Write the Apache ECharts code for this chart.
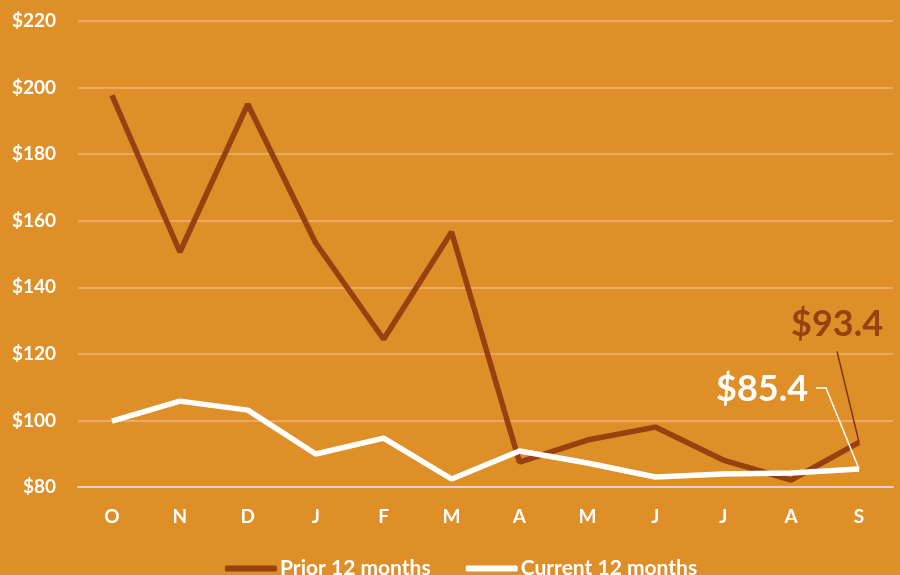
<!DOCTYPE html>
<html><head><meta charset="utf-8">
<script src="https://cdn.jsdelivr.net/npm/echarts@6/dist/echarts.min.js"></script>
<style>html,body{margin:0;padding:0;background:#DF8F27;}#c{width:900px;height:575px;}</style>
</head><body><div id="c"></div>
<script>
const categories = ['O','N','D','J','F','M','A','M','J','J','A','S'];
const prior = [197.7, 150.6, 195.0, 153.3, 124.4, 156.6, 87.5, 94.1, 98.0, 88.1, 82.1, 93.4];
const current = [99.8, 105.8, 103.1, 89.9, 94.7, 82.4, 90.8, 87.2, 83.0, 83.9, 84.2, 85.4];
const yTicks = {min: 80, max: 220, interval: 20};
const brown = '#96410F';
const font = 'Lato, "Open Sans", sans-serif';
const chart = echarts.init(document.getElementById('c'));
chart.setOption({
  backgroundColor: '#DF8F27',
  animation: false,
  grid: {left: 78, right: 7, top: 21, bottom: 88},
  legend: {
    top: 553, left: 220, itemWidth: 52, itemHeight: 6, itemGap: 35,
    icon: 'roundRect',
    textStyle: {color: '#fff', fontSize: 21, fontWeight: 'bold', fontFamily: font, padding: [0,0,0,-2]},
    data: [{name: 'Prior 12 months', itemStyle:{color: brown}}, {name: 'Current 12 months', itemStyle:{color:'#fff'}}]
  },
  xAxis: {
    type: 'category', data: categories, boundaryGap: true,
    axisLine: {show: true, lineStyle: {color: '#D9D9D9', width: 2}},
    axisTick: {show: false},
    axisLabel: {color: '#fff', fontSize: 19, fontWeight: 'bold', fontFamily: font, margin: 20}
  },
  yAxis: {
    type: 'value', min: yTicks.min, max: yTicks.max, interval: yTicks.interval,
    axisLine: {show: false}, axisTick: {show: false},
    splitLine: {lineStyle: {color: '#F2B079', width: 1.5}},
    axisLabel: {color: '#fff', fontSize: 19, fontWeight: 'bold', fontFamily: font, margin: 22, formatter: v => '$' + v}
  },
  series: [
    {name: 'Prior 12 months', type: 'line', data: prior, symbol: 'none', color: brown,
     lineStyle: {color: brown, width: 5.5}},
    {name: 'Current 12 months', type: 'line', data: current, symbol: 'none', color: '#fff',
     lineStyle: {color: '#fff', width: 5.5}}
  ]
});
const pP = chart.convertToPixel({seriesIndex: 0}, [11, prior[11]]);
const pC = chart.convertToPixel({seriesIndex: 1}, [11, current[11]]);
chart.setOption({
  graphic: [
    {type: 'polyline', shape: {points: [[pP[0]-22, pP[1]-91], [pP[0], pP[1]]]}, style: {stroke: '#7A3410', lineWidth: 1.5, fill: null}, z: 10},
    {type: 'text', x: pP[0]-22, y: pP[1]-118, style: {text: '$' + prior[11], fill: brown, font: 'bold 36px ' + font, textAlign: 'center', textVerticalAlign: 'middle'}, z: 10},
    {type: 'polyline', shape: {points: [[pC[0]-43, pC[1]-81], [pC[0]-33, pC[1]-81], [pC[0], pC[1]]]}, style: {stroke: '#fff', lineWidth: 1.5, fill: null}, z: 10},
    {type: 'text', x: pC[0]-97, y: pC[1]-80, style: {text: '$' + current[11], fill: '#fff', font: 'bold 36px ' + font, textAlign: 'center', textVerticalAlign: 'middle'}, z: 10}
  ]
});
</script></body></html>
